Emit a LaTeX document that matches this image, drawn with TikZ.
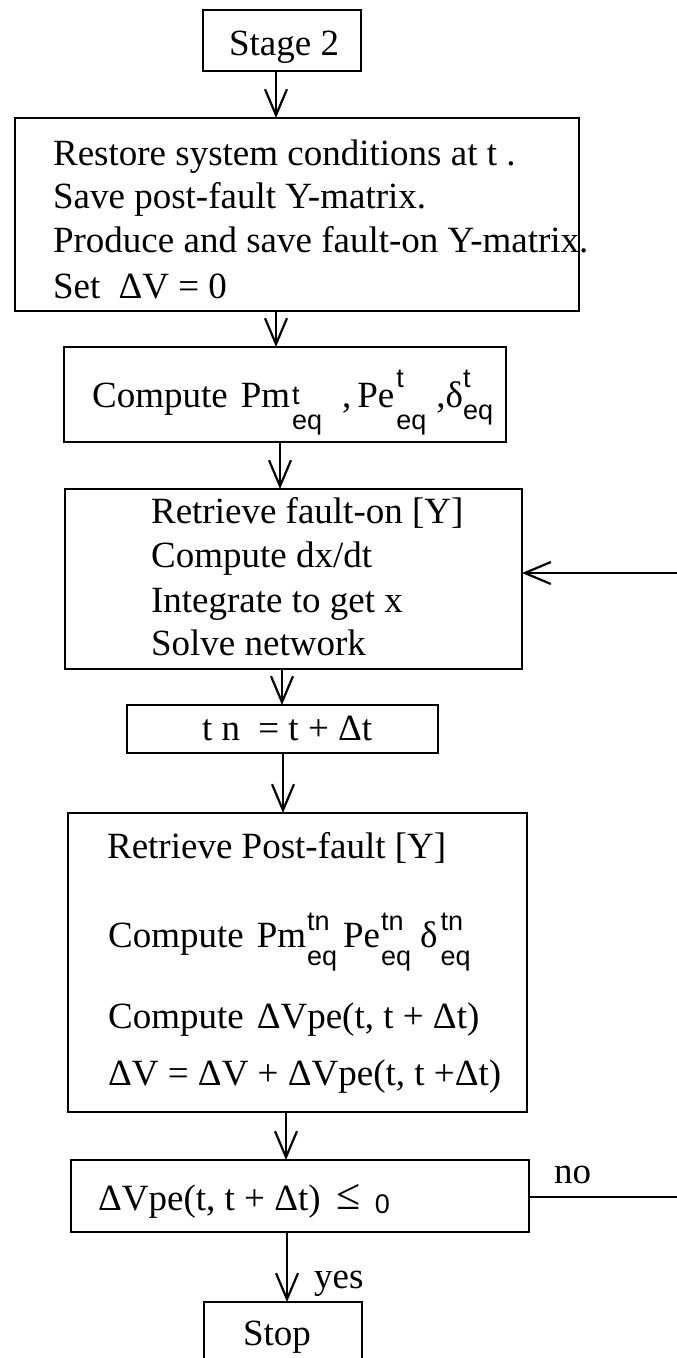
\documentclass[tikz,border=0pt]{standalone}
\usepackage{fontspec}
\setmainfont{Liberation Serif}
\newfontfamily\sansx{Liberation Sans}
\usetikzlibrary{arrows.meta}
\newcommand{\supsubx}[4]{{\sansx\fontsize{27}{27}\selectfont\makebox[0pt][l]{\raisebox{#3}{#1}}\raisebox{-#4}{#2}}}
\begin{document}
\begin{tikzpicture}[x=1pt,y=-1pt,line width=2.2pt,
  box/.style={draw,inner sep=0pt,outer sep=0pt},
  arr/.style={-{Straight Barb[length=26pt,width=22pt]}},
  txt/.style={anchor=base west,inner sep=0pt,font=\fontsize{37}{44}\selectfont}]
\useasboundingbox (0,0) rectangle (677,1358);
\clip (0,0) rectangle (677,1358);
% boxes
\node[box,minimum width=158pt,minimum height=61pt] (stage) at (282,40.5) {};
\node[box,minimum width=564pt,minimum height=193pt] (big) at (297,214.5) {};
\node[box,minimum width=442pt,minimum height=95pt] (compute) at (285,394.5) {};
\node[box,minimum width=457pt,minimum height=180pt] (retrieve) at (293.5,579) {};
\node[box,minimum width=311pt,minimum height=48pt] (tn) at (282.5,729) {};
\node[box,minimum width=459pt,minimum height=299pt] (post) at (297.5,962.5) {};
\node[box,minimum width=458pt,minimum height=72pt] (cond) at (300,1196) {};
\node[box,minimum width=158pt,minimum height=76pt] (stop) at (283,1340) {};
% texts
\node[txt] (tstage) at (228,55) {Stage 2};
\node[txt] (b1) at (52,165) {Restore system conditions at t .};
\node[txt] (b2) at (52,208) {Save post-fault Y-matrix.};
\node[txt] (b3) at (52,252) {Produce and save fault-on Y-matrix.};
\node[txt] (b4) at (52,298) {Set\hspace{9pt} ΔV = 0};
\node[txt] (c1) at (91,407) {Compute\hspace{13pt}Pm\hspace{2pt}\supsubx{t}{eq}{3pt}{22pt}\hspace{20pt},\hspace{6pt}Pe\hspace{2pt}\supsubx{t}{eq}{20pt}{22pt}\hspace{10pt},δ\supsubx{t}{eq}{20pt}{12pt}};
\node[txt] (r1) at (150,523) {Retrieve fault-on [Y]};
\node[txt] (r2) at (150,567) {Compute dx/dt};
\node[txt] (r3) at (150,612) {Integrate to get x};
\node[txt] (r4) at (150,655) {Solve network};
\node[txt] (ttn) at (201,740) {t n\hspace{9pt} = t + Δt};
\node[txt] (p1) at (106,858) {Retrieve Post-fault [Y]};
\node[txt] (p2) at (107,947) {Compute\hspace{13pt}Pm\hspace{1pt}\supsubx{tn}{eq}{17pt}{18pt}\hspace{6pt}Pe\hspace{1pt}\supsubx{tn}{eq}{17pt}{18pt}\hspace{9pt}δ\hspace{3pt}\supsubx{tn}{eq}{17pt}{18pt}};
\node[txt] (p3) at (107,1028) {Compute\hspace{13pt}ΔVpe(t, t + Δt)};
\node[txt] (p4) at (107,1085) {ΔV = ΔV + ΔVpe(t, t +Δt)};
\node[txt] (k1) at (97,1210) {ΔVpe(t, t + Δt)\hspace{16pt}{\fontsize{44}{44}\selectfont\raisebox{1pt}{≤}}\hspace{14pt}{\sansx\fontsize{27}{27}\selectfont\raisebox{-3pt}{0}}};
\node[txt] (tstop) at (242,1345) {Stop};
\node[txt] (lno) at (553,1183) {no};
\node[txt] (lyes) at (313,1288) {yes};
% arrows
\draw[arr] ([xshift=-6pt]stage.south) -- ([xshift=-21pt]big.north);
\draw[arr] ([xshift=-21pt]big.south) -- ([xshift=-9pt]compute.north);
\draw[arr] ([xshift=-5pt]compute.south) -- ([xshift=-13.5pt]retrieve.north);
\draw[arr] ([xshift=-11.5pt]retrieve.south) -- ([xshift=-0.5pt]tn.north);
\draw[arr] ([xshift=0.5pt]tn.south) -- ([xshift=-14.5pt]post.north);
\draw[arr] ([xshift=-11.5pt]post.south) -- ([xshift=-14pt]cond.north);
\draw[arr] ([xshift=-13pt]cond.south) -- ([xshift=4pt]stop.north);
% loop back
\coordinate (fb) at (677,573);
\coordinate (nr) at (677,1197);
\draw[arr] (fb) -- (retrieve.east |- fb);
\draw (cond.east |- nr) -- (nr);
\end{tikzpicture}
\end{document}
